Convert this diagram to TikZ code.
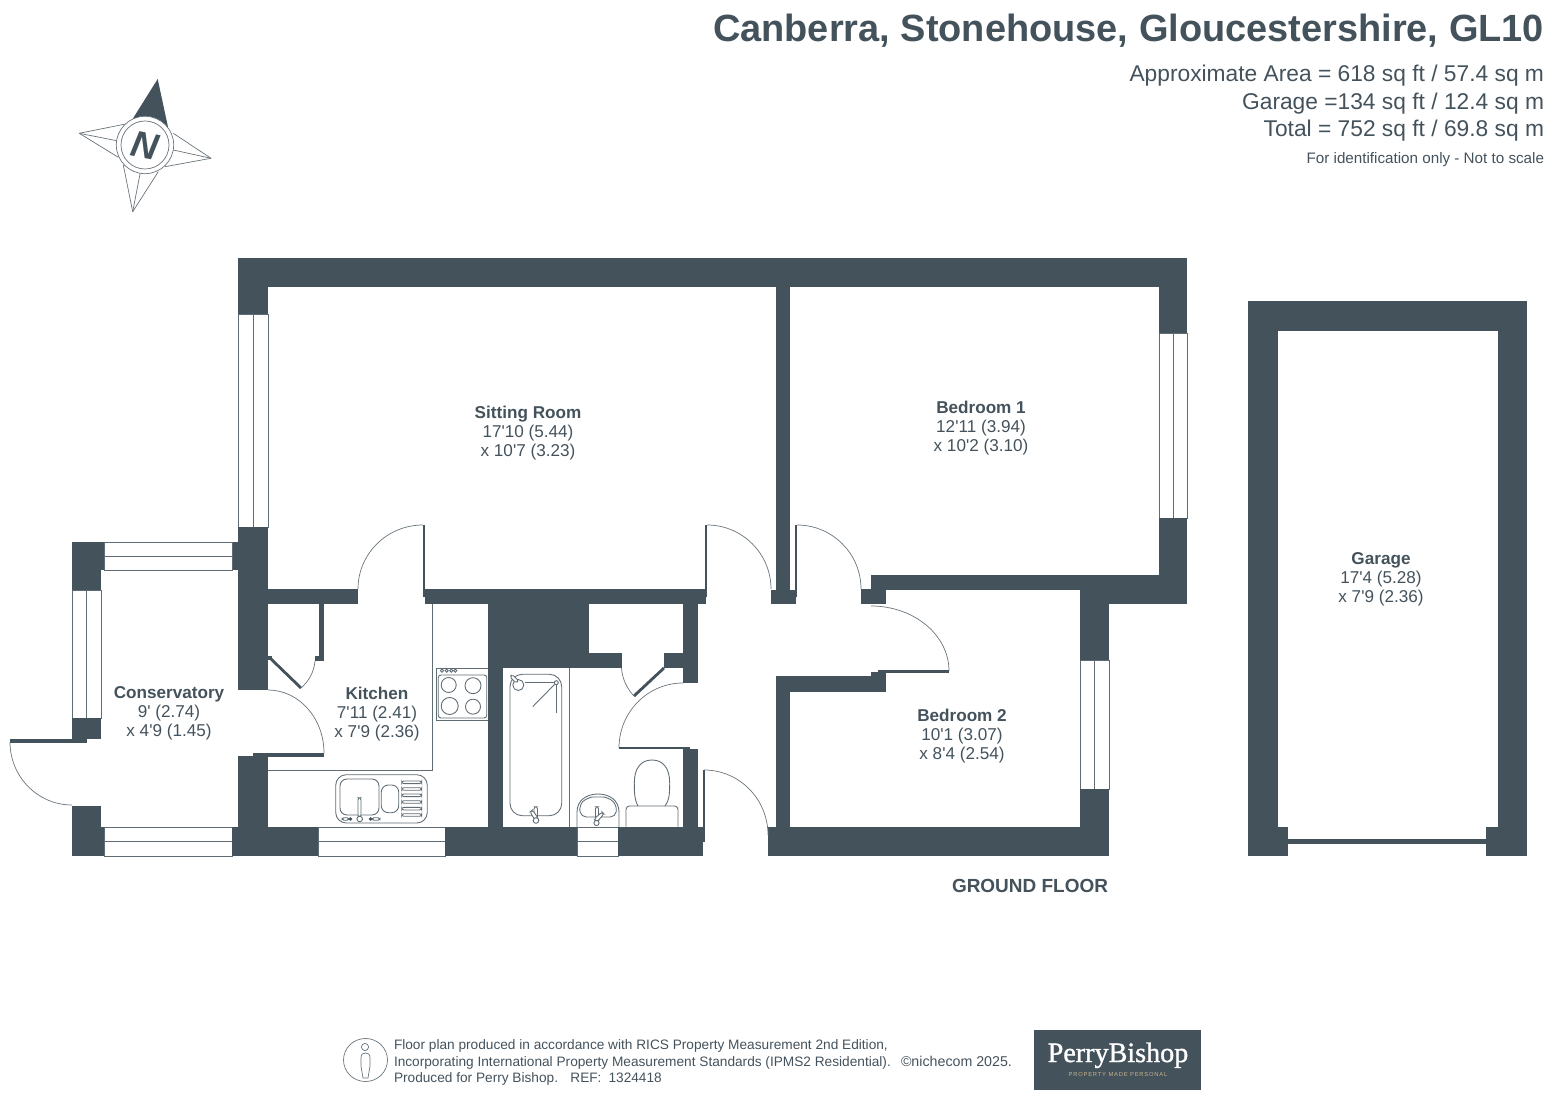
\documentclass[tikz,border=0pt]{standalone}
\usepackage{fontspec}
\setmainfont{Liberation Sans}[Ligatures=TeXOff]
\newfontfamily\logofont[FakeBold=1.2]{Liberation Serif}
\usepackage{xcolor}
\usepackage{tikz}
\usetikzlibrary{calc}
\definecolor{wallcol}{HTML}{44525C}
\definecolor{logotan}{HTML}{C9B48E}
\tikzset{
  plan/.style={x=0.02cm, y=-0.02cm, every node/.style={inner sep=0pt, outer sep=0pt, text=wallcol}},
  fineline/.style={draw=wallcol!85, line width=0.5pt},
  hairline/.style={draw=wallcol!80, line width=0.4pt},
  roomlabel/.style={align=center, font=\fontsize{9.75}{10.8}\selectfont},
  arealine/.style={anchor=base east, font=\fontsize{12.96}{15}\selectfont},
  footline/.style={anchor=base west, font=\fontsize{7.78}{9}\selectfont}
}
\newcommand{\wall}[2]{
\fill[wallcol] (#1) rectangle (#2);
}
\newcommand{\winh}[4]{
\draw[fineline] (#1, #3) rectangle (#2, #4);
\draw[fineline] (#1, {(#3+#4)/2}) -- (#2, {(#3+#4)/2});
}
\newcommand{\winv}[4]{
\draw[fineline] (#1, #3) rectangle (#2, #4);
\draw[fineline] ({(#1+#2)/2}, #3) -- ({(#1+#2)/2}, #4);
}
\newcommand{\swing}[3]{
\coordinate (s) at (#1);
\coordinate (o) at (#2);
\coordinate (t) at (#3);
\coordinate (k) at ($(s) + (t) - (o)$);
\draw[hairline] (s) .. controls ($(s)!0.5523!(k)$) and ($(t)!0.5523!(k)$) .. (t);
}
\begin{document}
\begin{tikzpicture}[plan]
\useasboundingbox (0, 0) rectangle (1556, 1104);
\node[anchor=base east, font=\fontsize{21.6}{24}\selectfont\bfseries] at (1544, 42) (title) {Canberra, Stonehouse, Gloucestershire, GL10};
\node[arealine] at (1544, 82) (area) {Approximate Area = 618 sq ft / 57.4 sq m};
\node[arealine] at (1544, 110) (garagearea) {Garage =134 sq ft / 12.4 sq m};
\node[arealine] at (1544, 137) (total) {Total = 752 sq ft / 69.8 sq m};
\node[anchor=base east, font=\fontsize{8.65}{10}\selectfont] at (1544, 164) (scale) {For identification only - Not to scale};

\fill[wallcol] (157.7, 79) -- (132, 120) -- (168, 127) -- cycle;
\draw[hairline] (79.3, 133.3) -- (125.7, 124);
\draw[hairline] (79.3, 133.3) -- (116.7, 140.7);
\draw[hairline] (79.3, 133.3) -- (118.3, 157.3);
\draw[hairline] (211, 158.3) -- (173.3, 133.3);
\draw[hairline] (211, 158.3) -- (173.3, 150);
\draw[hairline] (211, 158.3) -- (165, 166.7);
\draw[hairline] (132.7, 211.7) -- (123.3, 165);
\draw[hairline] (132.7, 211.7) -- (140, 174);
\draw[hairline] (132.7, 211.7) -- (158.3, 171.7);
\draw[hairline, fill=white] (145, 145) circle (28.7);
\draw[hairline] (145, 145) circle (24);
\node[rotate=-11, font=\fontsize{21}{22}\selectfont\bfseries\itshape] at (145, 146) (north) {N};

\wall{238, 258}{1187, 287}
\wall{238, 287}{268, 314}
\winv{238}{268}{314}{527}
\wall{238, 527}{268, 690}
\wall{232, 542}{238, 570}
\winh{104}{232}{542}{570}
\wall{72, 542}{104, 570}
\wall{72, 570}{101, 590}
\winv{72}{101}{590}{718}
\wall{72, 718}{101, 739}
\wall{10, 739}{87, 743}
\swing{10, 742}{72, 742}{72, 805}
\wall{72, 806}{101, 827}
\wall{72, 827}{104, 856}
\winh{104}{232}{827}{856}
\wall{232, 827}{318, 856}
\wall{238, 756}{268, 827}
\wall{253, 753}{324, 757}
\swing{268, 690}{268, 753}{324, 753}
\winh{318}{445}{827}{856}
\wall{445, 827}{577, 856}
\winh{577}{618}{827}{856}
\wall{618, 827}{703, 856}
\wall{768, 827}{1109, 856}

\wall{268, 589}{358, 604}
\wall{423, 525}{425, 590}
\swing{423, 525}{423, 589}{358, 589}
\wall{423, 589}{707, 597}
\wall{425, 597}{706, 604}
\wall{705, 525}{707, 590}
\swing{707, 525}{707, 589}{771, 589}

\draw[fineline] (432, 604) -- (432, 770) -- (268, 770);
\wall{319, 604}{324, 661}
\wall{315, 656}{324, 661}
\wall{268, 656}{272, 660}
\draw[wallcol, line width=1.6pt] (270, 658) -- (301, 688);
\draw[hairline] (315, 661) .. controls (314, 672) and (309, 681) .. (301, 688);

\draw[fineline, fill=white] (436.5, 668) rectangle (488, 720.5);
\draw[fineline, rounded corners=1.5] (438.3, 675) rectangle (486.7, 718);
\draw[fineline] (442, 670.7) circle (1.6);
\draw[fineline] (446.7, 670.7) circle (1.6);
\draw[fineline] (451.3, 670.7) circle (1.6);
\draw[fineline] (455.3, 670.7) circle (1.6);
\draw[fineline] (448.7, 685) circle (7.5);
\draw[fineline] (473, 685.7) circle (8);
\draw[fineline] (449.7, 706) circle (8.5);
\draw[fineline] (473, 706.7) circle (7.5);

\draw[fineline, rounded corners=6] (335.7, 774.7) rectangle (427.3, 823);
\draw[fineline, rounded corners=4] (340, 779) rectangle (379, 815);
\draw[fineline, rounded corners=4] (381.3, 785) rectangle (398.7, 812.7);
\draw[fineline, rounded corners=1.3] (401.7, 781) rectangle (421.7, 783.6);
\draw[fineline, rounded corners=1.3] (401.7, 787.7) rectangle (421.7, 790.3);
\draw[fineline, rounded corners=1.3] (401.7, 794) rectangle (421.7, 796.6);
\draw[fineline, rounded corners=1.3] (401.7, 800.7) rectangle (421.7, 803.3);
\draw[fineline, rounded corners=1.3] (401.7, 807.4) rectangle (421.7, 810);
\draw[fineline, rounded corners=1.3] (401.7, 813.7) rectangle (421.7, 816.3);
\draw[fineline, fill=white, rounded corners=1.3] (358, 797.7) rectangle (361, 817);
\draw[fineline, fill=white] (359.7, 819) circle (2.8);
\draw[fineline, rounded corners=1] (342, 817.8) rectangle (349, 820.2);
\fill[wallcol] (350.5, 819) circle (1.8);
\draw[fineline, rounded corners=1] (372, 817.8) rectangle (380, 820.2);
\fill[wallcol] (370.5, 819) circle (1.8);

\wall{488, 604}{502.5, 827}
\wall{488, 604}{588.7, 653}
\wall{502, 653}{621.5, 668}
\wall{664, 653}{698, 668}
\wall{683, 604}{698, 683}
\wall{683, 749}{698, 827}
\wall{698, 827}{703, 856}
\wall{703, 770}{704.5, 842}
\draw[wallcol, line width=1.6pt] (664, 668) -- (634, 696);
\draw[hairline] (621.5, 668) .. controls (622, 678) and (627, 689) .. (634, 696);
\swing{683, 683}{683, 748}{619, 748}
\wall{619, 747}{690, 749}
\swing{704, 770}{704, 835}{768, 835}

\draw[fineline] (569, 668) -- (569, 827);
\draw[fineline, rounded corners=7] (510, 674.3) rectangle (561.7, 815.7);
\draw[fineline, fill=white] (518.3, 685) circle (5.5);
\draw[fineline, fill=white, rounded corners=1] (510, 677) -- (512, 674.5) -- (519, 681) -- (516, 683) -- cycle;
\draw[fineline] (525, 682.7) -- (554, 682.7);
\draw[fineline] (556.3, 682.7) circle (2);
\draw[fineline] (556.3, 685) -- (556.3, 713);
\draw[fineline] (554.5, 684.5) -- (532.7, 706.7);
\draw[fineline, fill=white, rounded corners=1.3] (534, 806.7) rectangle (537.5, 820);
\draw[fineline, fill=white, rounded corners=1.3] (530, 812) -- (532.5, 810) -- (538, 818) -- (535, 820) -- cycle;
\draw[fineline, fill=white] (536, 820.5) circle (2.8);

\draw[fineline] (577, 827) -- (577, 812) .. controls (577, 800) and (587, 794) .. (598, 794) .. controls (609, 794) and (619, 800) .. (619, 812) -- (619, 827);
\draw[fineline, rounded corners=3] (579, 806) .. controls (585, 799) and (591, 797) .. (598, 797) .. controls (605, 797) and (611, 799) .. (617, 806) -- (615.5, 817) -- (581, 817) -- cycle;
\draw[fineline, fill=white, rounded corners=1.3] (595.5, 806.7) rectangle (598.5, 820);
\draw[fineline, fill=white, rounded corners=1.3] (594, 819) -- (602, 812) -- (604, 814) -- (597, 822) -- cycle;
\draw[fineline, fill=white] (596.5, 823) circle (2.6);

\draw[fineline] (638, 806) .. controls (635, 801) and (634.3, 795) .. (634.3, 783) .. controls (634.3, 768) and (641, 760) .. (652, 760) .. controls (663, 760) and (669.7, 768) .. (669.7, 783) .. controls (669.7, 795) and (669, 801) .. (665, 806);
\draw[fineline, rounded corners=2] (626, 826.7) -- (626, 806) -- (678, 806) -- (678, 826.7);

\wall{776, 287}{790, 590}
\wall{771, 590}{797, 597}
\wall{771, 597}{796, 604}
\wall{795, 525}{797, 590}
\swing{797, 525}{797, 589}{861, 589}
\wall{871, 575}{1187, 590}
\wall{861, 589}{886, 604}
\wall{871, 575}{886, 590}
\swing{871, 606}{871, 671}{949, 671}
\wall{878, 670}{949, 673}
\wall{871, 672}{886, 692}
\wall{776, 676}{886, 692}
\wall{776, 692}{790, 827}
\wall{1159, 287}{1187, 333}
\winv{1159}{1187}{333}{518}
\wall{1159, 518}{1187, 604}
\wall{1080, 590}{1187, 604}
\wall{1080, 604}{1109, 660}
\winv{1080}{1109}{660}{789}
\wall{1080, 789}{1109, 856}

\wall{1248, 301}{1527, 331}
\wall{1248, 331}{1278, 856}
\wall{1498, 331}{1527, 856}
\wall{1278, 827}{1288, 856}
\wall{1486, 827}{1498, 856}
\wall{1288, 839}{1486, 844}

\node[roomlabel] at (528, 433) (sitting) {\textbf{Sitting Room}\\17'10 (5.44)\\x 10'7 (3.23)};
\node[roomlabel] at (981, 428) (bedroomone) {\textbf{Bedroom 1}\\12'11 (3.94)\\x 10'2 (3.10)};
\node[roomlabel] at (962, 736) (bedroomtwo) {\textbf{Bedroom 2}\\10'1 (3.07)\\x 8'4 (2.54)};
\node[roomlabel] at (1381, 579) (garage) {\textbf{Garage}\\17'4 (5.28)\\x 7'9 (2.36)};
\node[roomlabel] at (169, 713) (conservatory) {\textbf{Conservatory}\\9' (2.74)\\x 4'9 (1.45)};
\node[roomlabel] at (377, 714) (kitchen) {\textbf{Kitchen}\\7'11 (2.41)\\x 7'9 (2.36)};
\node[anchor=base east, font=\fontsize{10.8}{13}\selectfont\bfseries] at (1108, 892) (floor) {GROUND FLOOR};

\draw[hairline] (365.5, 1060) ellipse (22 and 21.5);
\draw[hairline] (365, 1047) circle (3.6);
\draw[hairline] (361, 1058) .. controls (361, 1054) and (363, 1053) .. (365.5, 1053) .. controls (368, 1053) and (370, 1054) .. (370, 1058) -- (370, 1066) -- (368, 1078) -- (363, 1078) -- (361, 1066) -- cycle;
\node[footline] at (394, 1049) (footone) {Floor plan produced in accordance with RICS Property Measurement 2nd Edition,};
\node[footline] at (394, 1066) (foottwo) {Incorporating International Property Measurement Standards (IPMS2 Residential).};
\node[footline] at (394, 1082) (footthree) {Produced for Perry Bishop.\hspace{7pt}REF:\hspace{4pt}1324418};
\node[footline, font=\fontsize{8.1}{9}\selectfont] at (901, 1066) (copyright) {©nichecom 2025.};

\fill[wallcol] (1034, 1030) rectangle (1201, 1090);
\node[anchor=base, text=white, font=\fontsize{16}{18}\selectfont\logofont] at (1118, 1062) (logo) {PerryBishop};
\node[text=logotan, font=\fontsize{3.3}{4}\selectfont\addfontfeature{LetterSpace=14}] at (1118, 1075) (strap) {PROPERTY MADE PERSONAL};
\end{tikzpicture}
\end{document}
